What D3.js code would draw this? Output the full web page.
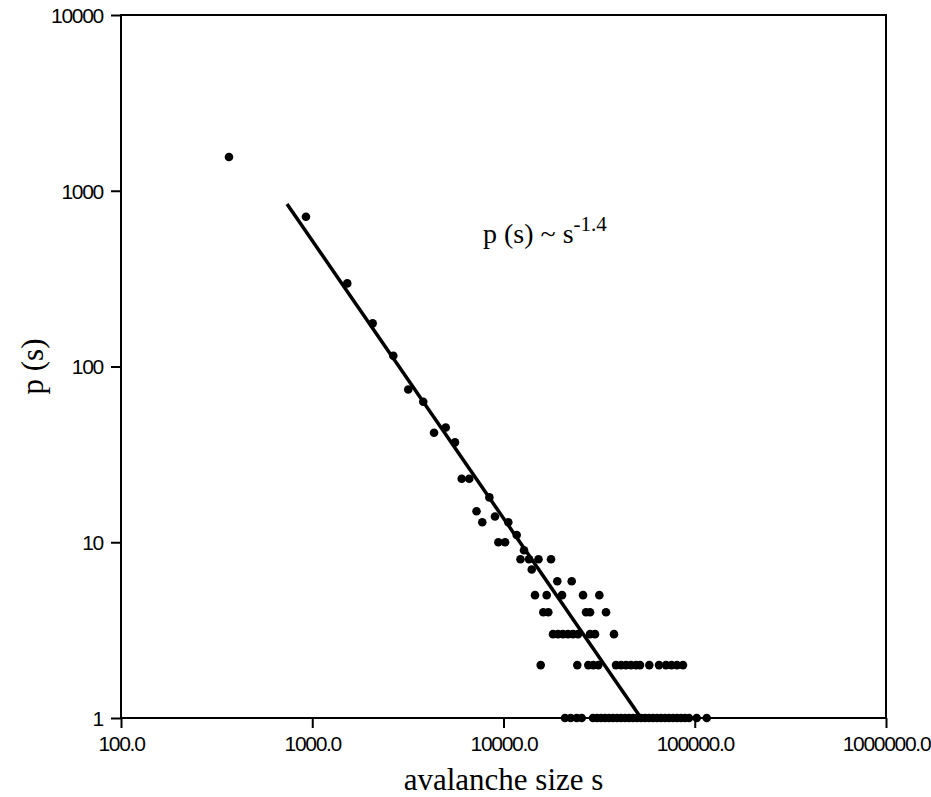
<!DOCTYPE html>
<html>
<head>
<meta charset="utf-8">
<script src="https://cdn.jsdelivr.net/npm/d3@7"></script>
<style>
  body { margin: 0; background: #fff; }
  .tick-label { font-family: "Liberation Sans", Arial, sans-serif; font-size: 21px; fill: #000; }
  .serif { font-family: "Liberation Serif", "Times New Roman", serif; fill: #000; }
</style>
</head>
<body>
<svg width="931" height="797"></svg>
<script>
// axis ticks
var xTicks = [100, 1000, 10000, 100000, 1000000];
var yTicks = [1, 10, 100, 1000, 10000];

// avalanche sizes, grouped by the count p(s) they were seen with
var countLevels = [1556, 712, 297, 176, 115, 74, 63, 45, 42, 37, 23, 18, 15, 14, 13, 11, 10, 9, 8, 7, 6, 5, 4, 3, 2, 1];
var sizesAtLevel = [
  [367],
  [927],
  [1524],
  [2070],
  [2653],
  [3177],
  [3805],
  [4989],
  [4333],
  [5576],
  [6045, 6620],
  [8436],
  [7227],
  [9025],
  [7745, 10594],
  [11720],
  [9400, 10190],
  [12800],
  [12270, 13590, 15240, 17720],
  [14050],
  [19110, 22730],
  [14610, 16820, 20230, 26050, 31700],
  [16150, 17150, 27010, 28340, 34360],
  [18150, 19280, 20470, 21750, 23090, 24520, 28340, 30090, 37820],
  [15650, 24310, 27760, 29480, 31310, 38740, 41150, 43700, 46410, 49300, 51730, 57860, 65030, 70740, 75570, 80760, 86800],
  [20970, 22460, 24140, 25640, 29380, 30830, 32340, 33940, 35610, 37360, 39220, 41150, 43180, 45310,
   47540, 49890, 52360, 54940, 57650, 60490, 63470, 66600, 69890, 73340, 76960, 80760, 84730, 88910,
   93300, 102400, 115500]
];

// fitted power law line end points
var fitSizes = [738, 52360];
var fitCounts = [841, 1];

var svg = d3.select("svg");
var plotLeft = 121, plotRight = 886, plotTop = 15, plotBottom = 718;

var x = d3.scaleLog().domain([100, 1000000]).range([plotLeft, plotRight]);
var y = d3.scaleLog().domain([1, 10000]).range([plotBottom, plotTop]);

// flatten points
var points = [];
countLevels.forEach(function(c, i) {
  sizesAtLevel[i].forEach(function(s) { points.push({s: s, p: c}); });
});

// frame
svg.append("rect")
  .attr("x", plotLeft).attr("y", plotTop)
  .attr("width", plotRight - plotLeft).attr("height", plotBottom - plotTop)
  .attr("fill", "none").attr("stroke", "#000").attr("stroke-width", 2);

// y axis
var yAxis = svg.append("g")
  .attr("transform", "translate(" + plotLeft + ",0)")
  .call(d3.axisLeft(y).tickValues(yTicks).tickFormat(d3.format("d")).tickSize(10).tickPadding(8));
// x axis
var xAxis = svg.append("g")
  .attr("transform", "translate(0," + plotBottom + ")")
  .call(d3.axisBottom(x).tickValues(xTicks).tickFormat(d3.format(".1f")).tickSize(10).tickPadding(8));

[xAxis, yAxis].forEach(function(g) {
  g.attr("font-size", null).attr("font-family", null);
  g.select(".domain").remove();
  g.selectAll(".tick line").attr("stroke", "#000").attr("stroke-width", 2);
  g.selectAll(".tick text").attr("class", "tick-label")
    .style("letter-spacing", "-1.3px");
});
yAxis.selectAll(".tick text").attr("dy", "0.35em");

// fit line
svg.append("line")
  .attr("x1", x(fitSizes[0])).attr("y1", y(fitCounts[0]))
  .attr("x2", x(fitSizes[1])).attr("y2", y(fitCounts[1]))
  .attr("stroke", "#000").attr("stroke-width", 3.5);

// dots
svg.append("g").selectAll("circle")
  .data(points)
  .enter()
  .append("circle")
  .attr("cx", function(d) { return x(d.s); })
  .attr("cy", function(d) { return y(d.p); })
  .attr("r", 4.3)
  .attr("fill", "#000");

// annotation
var ann = svg.append("text").attr("class", "serif")
  .attr("x", 483).attr("y", 243)
  .style("font-size", "28px");
ann.append("tspan").text("p (s) ~ s");
ann.append("tspan").attr("dy", -12).style("font-size", "21px").text("-1.4");

// axis titles
svg.append("text").attr("class", "serif")
  .attr("x", (plotLeft + plotRight) / 2).attr("y", 790)
  .attr("text-anchor", "middle")
  .style("font-size", "31px")
  .text("avalanche size s");

svg.append("text").attr("class", "serif")
  .attr("transform", "translate(43," + (plotTop + plotBottom) / 2 + ") rotate(-90)")
  .attr("text-anchor", "middle")
  .style("font-size", "31px")
  .text("p (s)");
</script>
</body>
</html>
